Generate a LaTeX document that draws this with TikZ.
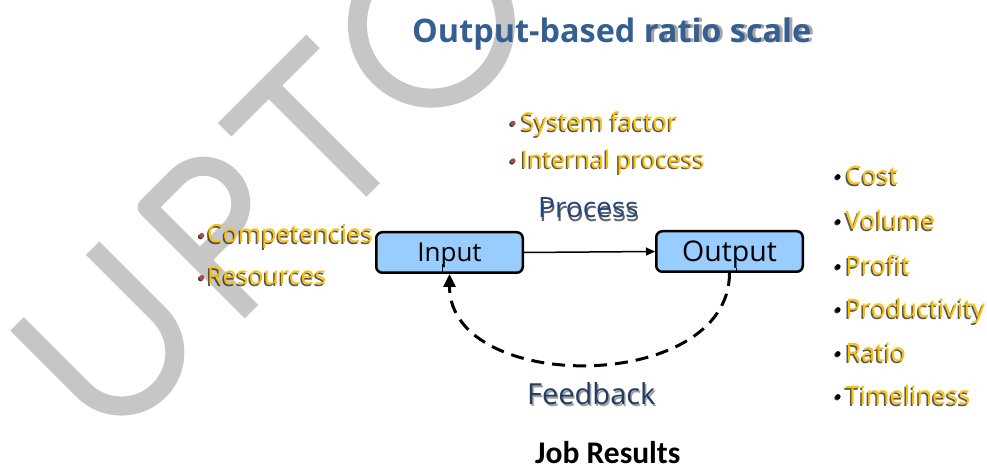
\documentclass[tikz,border=0pt]{standalone}
\usepackage{fontspec}
\setmainfont{Open Sans}
\newfontfamily\sego{Open Sans}
\newfontfamily\calib{Carlito}
\usetikzlibrary{arrows.meta}

\definecolor{wmgray}{HTML}{C6C6C6}
\definecolor{titleblue}{HTML}{355F91}
\definecolor{procblue}{HTML}{1F497D}
\definecolor{fbblue}{HTML}{213D62}
\definecolor{gold}{HTML}{FFC000}
\definecolor{shadowgray}{HTML}{3A3A3A}
\definecolor{bulred}{HTML}{A84A48}
\definecolor{boxblue}{HTML}{99CCFF}

\tikzset{
  wm/.style={draw=wmgray, line width=19pt, line cap=butt, line join=round},
  lab/.style={anchor=base west, inner sep=0pt, text=gold},
  shd/.style={anchor=base west, inner sep=0pt, text=shadowgray, opacity=0.85},
  listfont/.style={font=\sego\fontsize{24.5}{28}\selectfont},
  box/.style={draw=black, line width=2.5pt, fill=boxblue, rounded corners=6pt,
    minimum width=146.5pt, minimum height=40.5pt, inner sep=0pt, text depth=0pt},
  flow/.style={draw=black, line width=1.5pt, -{Triangle[length=9pt,width=8pt]}},
  fb/.style={draw=black, line width=3pt, dash pattern=on 13pt off 8pt,
    -{Triangle[length=13pt,width=12pt]}},
}

% bulleted item: name, bullet x, text x, baseline y, bullet colour, text
\newcommand\bitem[6]{%
  \fill[shadowgray] (#2-1.2,#4+\bulh-1.2) circle (2.6);
  \fill[#5] (#2,#4+\bulh) circle (2.6);
  \node[shd, listfont] (#1-s) at (#3-1.5,#4-1.5) {#6};
  \node[lab, listfont] (#1) at (#3,#4) {#6};
}
\def\bulh{7.4}

\begin{document}
\begin{tikzpicture}[x=1pt, y=1pt]
\useasboundingbox (0,0) rectangle (987,468);
\fill[white] (0,0) rectangle (987,468);

% large grey lettering in the background
\begin{scope}[shift={(281.5,186.5)}, rotate=45]
  \draw[wm] (-217,157) -- (-217,63) arc[start angle=180, end angle=360, radius=53.5] -- (-110,157);
  \draw[wm] (-42.5,0) -- (-42.5,147.5) -- (0,147.5)
            arc[start angle=90, end angle=-90, radius=37.25] -- (-42.5,73);
  \draw[wm] (67,147.5) -- (192,147.5);
  \draw[wm] (129.5,147.5) -- (129.5,0);
  \draw[wm] (288,76) circle (74);
\end{scope}

% title
\node[anchor=base west, inner sep=0pt, text=gray!70, font=\sego\bfseries\fontsize{32.4}{37}\selectfont]
  (title-s) at (415,425) {\phantom{Output-based }ratio scale};
\node[anchor=base west, inner sep=0pt, text=titleblue, font=\sego\bfseries\fontsize{32.4}{37}\selectfont]
  (title) at (412,425) {Output-based ratio scale};

% process factors
\bitem{sys}{513}{521}{337.3}{bulred}{System factor}
\bitem{intp}{513}{521}{299.7}{bulred}{Internal process}

% input factors
\begin{scope}[listfont/.style={font=\sego\fontsize{25}{29}\selectfont}]
\bitem{comp}{201.7}{207}{225}{bulred}{Competencies}
\bitem{res}{201.7}{207}{183}{bulred}{Resources}
\end{scope}

% result measures
\begin{scope}[listfont/.style={font=\sego\fontsize{25.3}{29}\selectfont}]
\def\bulh{8.3}
\bitem{cost}{838}{845.5}{283}{black}{Cost}
\bitem{vol}{838}{845.5}{238}{black}{Volume}
\bitem{prof}{838}{845.5}{193}{black}{Profit}
\bitem{prod}{838}{845.5}{150}{black}{Productivity}
\bitem{ratio}{838}{845.5}{106}{black}{Ratio}
\bitem{time}{838}{845.5}{63}{black}{Timeliness}
\end{scope}

% boxes
\node[box, text height=18.4pt, font=\sego\fontsize{26}{30}\selectfont] (in) at (449.5,215.5) {Input};
\node[box, text height=20.7pt, font=\sego\fontsize{28.5}{32}\selectfont] (out) at (729.5,216.5) {Output};

% process arrow and its label
\draw[flow] (in.east) -- (out.west);
\node[anchor=base west, inner sep=0pt, text=shadowgray, opacity=0.8, font=\sego\fontsize{28}{32}\selectfont]
  (proc-s) at (539,246) {Process};
\node[anchor=base west, inner sep=0pt, text=procblue, font=\sego\fontsize{28}{32}\selectfont]
  (proc) at (538,250) {Process};

% feedback loop
\draw[line width=1pt] (in.south) ++(-7,0) -- ++(0,10);
\draw[line width=1pt] (out.south) ++(6.5,0) -- ++(0,5);
\draw[fb] (out.south) .. controls +(0,-121) and +(0,-121) .. (in.south);
\node[anchor=base west, inner sep=0pt, text=shadowgray, opacity=0.5, font=\sego\fontsize{29}{33}\selectfont]
  (fbk-s) at (528.5,61.5) {Feedback};
\node[anchor=base west, inner sep=0pt, text=fbblue, font=\sego\fontsize{29}{33}\selectfont]
  (fbk) at (527,63) {Feedback};

% caption
\node[anchor=base west, inner sep=0pt, font=\calib\bfseries\fontsize{31.5}{35}\selectfont]
  (cap) at (535,4) {Job Results};
\end{tikzpicture}
\end{document}
